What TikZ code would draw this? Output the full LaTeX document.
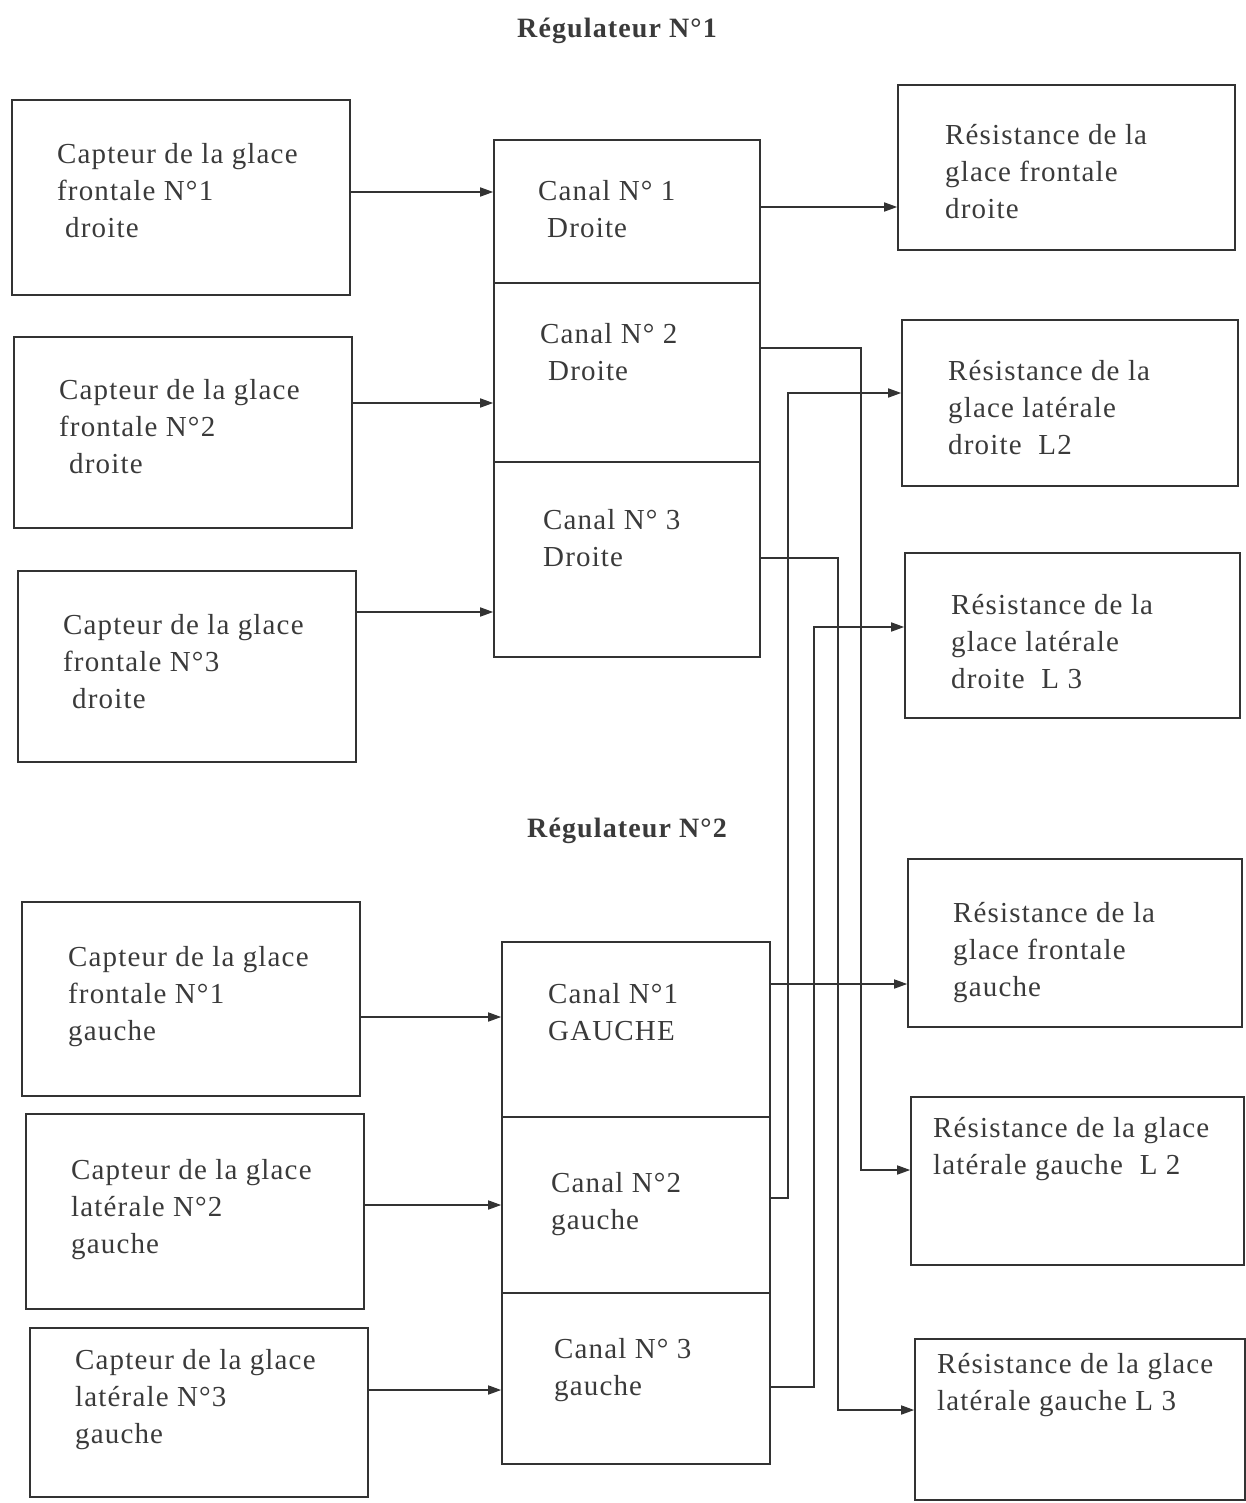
\documentclass[tikz,border=0pt]{standalone}
\usepackage{fontspec}
\setmainfont{Liberation Serif}[LetterSpace=4]
\usetikzlibrary{arrows.meta,fit}
\definecolor{ink}{HTML}{333333}
\definecolor{textgray}{HTML}{3A3A3A}
\begin{document}
\begin{tikzpicture}[x=1pt,y=-1pt,
  box/.style={draw=ink,line width=1.6pt,inner sep=0pt,rectangle},
  txt/.style={anchor=base west,align=left,inner sep=0pt,text=textgray,
    font=\fontsize{29}{37}\selectfont},
  ttl/.style={anchor=base,inner sep=0pt,text=textgray,
    font=\fontsize{28}{34}\selectfont\bfseries},
  arr/.style={draw=ink,line width=1.6pt,-{Triangle[length=13pt,width=9pt]}}]
\useasboundingbox (0,0) rectangle (1245,1503);
% titles
\node[ttl] (title1) at (617,38) {Régulateur N°1};
\node[ttl] (title2) at (627,837) {Régulateur N°2};
% left boxes
\node[box,fit={(12,100) (350,295)}] (b1) {};
\node[box,fit={(14,337) (352,528)}] (b2) {};
\node[box,fit={(18,571) (356,762)}] (b3) {};
\node[box,fit={(22,902) (360,1096)}] (b4) {};
\node[box,fit={(26,1114) (364,1309)}] (b5) {};
\node[box,fit={(30,1328) (368,1497)}] (b6) {};
% (base anchor = baseline of last line)
\node[txt] (tb1) at (57,238) {Capteur de la glace\\frontale N°1\\\hspace*{8pt}droite};
\node[txt] (tb2) at (59,473) {Capteur de la glace\\frontale N°2\\\hspace*{10pt}droite};
\node[txt] (tb3) at (63,708) {Capteur de la glace\\frontale N°3\\\hspace*{9pt}droite};
\node[txt] (tb4) at (68,1040) {Capteur de la glace\\frontale N°1\\gauche};
\node[txt] (tb5) at (71,1253) {Capteur de la glace\\latérale N°2\\gauche};
\node[txt] (tb6) at (75,1443) {Capteur de la glace\\latérale N°3\\gauche};
% regulator 1 channels
\node[box,fit={(494,140) (760,283)}] (c1d) {};
\node[box,fit={(494,283) (760,462)}] (c2d) {};
\node[box,fit={(494,462) (760,657)}] (c3d) {};
\node[txt] (tc1d) at (538,238) {Canal N° 1\\\hspace*{9pt}Droite};
\node[txt] (tc2d) at (540,380) {Canal N° 2\\\hspace*{8pt}Droite};
\node[txt] (tc3d) at (543,566) {Canal N° 3\\Droite};
% regulator 2 channels
\node[box,fit={(502,942) (770,1117)}] (c1g) {};
\node[box,fit={(502,1117) (770,1293)}] (c2g) {};
\node[box,fit={(502,1293) (770,1464)}] (c3g) {};
\node[txt] (tc1g) at (548,1040) {Canal N°1\\GAUCHE};
\node[txt] (tc2g) at (551,1229) {Canal N°2\\gauche};
\node[txt] (tc3g) at (554,1395) {Canal N° 3\\gauche};
% right boxes
\node[box,fit={(898,85) (1235,250)}] (r1) {};
\node[box,fit={(902,320) (1238,486)}] (r2) {};
\node[box,fit={(905,553) (1240,718)}] (r3) {};
\node[box,fit={(908,859) (1242,1027)}] (r4) {};
\node[box,fit={(911,1097) (1244,1265)}] (r5) {};
\node[box,fit={(915,1339) (1245,1500)}] (r6) {};
\node[txt] (tr1) at (945,219) {Résistance de la\\glace frontale\\droite};
\node[txt] (tr2) at (948,454) {Résistance de la\\glace latérale\\droite\ \ L2};
\node[txt] (tr3) at (951,688) {Résistance de la\\glace latérale\\droite\ \ L 3};
\node[txt] (tr4) at (953,996) {Résistance de la\\glace frontale\\gauche};
\node[txt] (tr5) at (933,1174) {Résistance de la glace\\latérale gauche\ \ L 2};
\node[txt] (tr6) at (937,1410) {Résistance de la glace\\latérale gauche L 3};
% sensors -> channels
\draw[arr] (b1.east |- 0,192) -- (c1d.west |- 0,192);
\draw[arr] (b2.east |- 0,403) -- (c2d.west |- 0,403);
\draw[arr] (b3.east |- 0,612) -- (c3d.west |- 0,612);
\draw[arr] (b4.east |- 0,1017) -- (c1g.west |- 0,1017);
\draw[arr] (b5.east |- 0,1205) -- (c2g.west |- 0,1205);
\draw[arr] (b6.east |- 0,1390) -- (c3g.west |- 0,1390);
% channels -> resistances
\draw[arr] (c1d.east |- 0,207) -- (r1.west |- 0,207);
\draw[arr] (c1g.east |- 0,984) -- (r4.west |- 0,984);
\draw[arr] (c2d.east |- 0,348) -| (861,1170) -- (r5.west |- 0,1170);
\draw[arr] (c3d.east |- 0,558) -| (838,1410) -- (r6.west |- 0,1410);
\draw[arr] (c2g.east |- 0,1198) -| (788,393) -- (r2.west |- 0,393);
\draw[arr] (c3g.east |- 0,1387) -| (814,627) -- (r3.west |- 0,627);
\end{tikzpicture}
\end{document}
